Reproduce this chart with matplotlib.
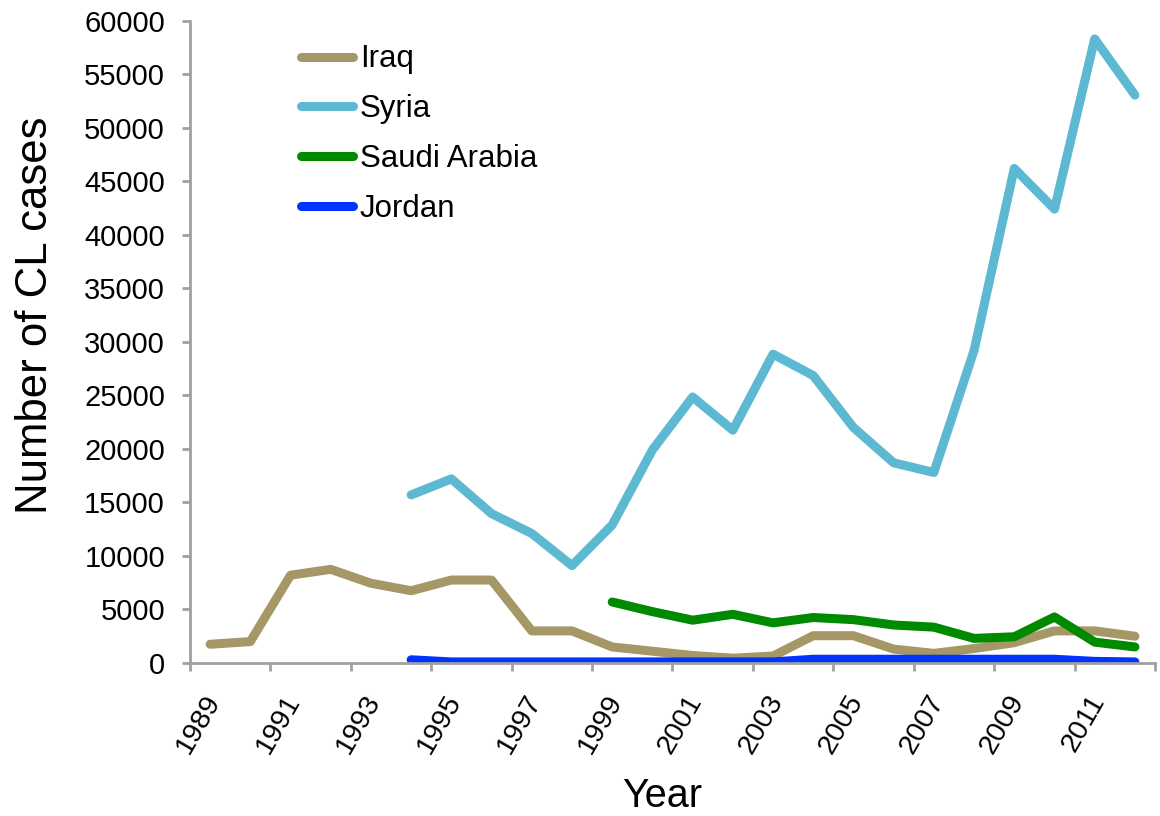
import numpy as np
import matplotlib
matplotlib.use("Agg")
import matplotlib.pyplot as plt
from matplotlib.transforms import ScaledTranslation

plt.rcParams['font.family'] = ['Liberation Sans', 'DejaVu Sans']

years = list(range(1989, 2013))
nan = np.nan

iraq = [1750, 2000, 8200, 8750, 7450, 6750, 7750, 7750, 3000, 3000,
        1500, 1100, 700, 450, 650, 2550, 2550, 1300, 900, 1350,
        1900, 3000, 3000, 2500]
syria = [nan, nan, nan, nan, nan, 15700, 17200, 13950, 12100, 9100,
         12900, 19900, 24850, 21750, 28850, 26850, 22000, 18700, 17800, 29200,
         46200, 42400, 58300, 53050]
saudi = [nan, nan, nan, nan, nan, nan, nan, nan, nan, nan,
         5700, 4800, 4000, 4550, 3750, 4250, 4050, 3550, 3350, 2300,
         2450, 4300, 1950, 1500]
jordan = [nan, nan, nan, nan, nan, 300, 100, 100, 100, 100,
          100, 100, 100, 100, 100, 350, 350, 350, 350, 350,
          350, 350, 150, 100]

series = [("Iraq", iraq, "#A69866"),
          ("Syria", syria, "#5DB9D2"),
          ("Saudi Arabia", saudi, "#008A00"),
          ("Jordan", jordan, "#0033FF")]

W, H = 1160, 816
fig = plt.figure(figsize=(W / 100, H / 100), dpi=100)
ax = fig.add_axes([190 / W, (816 - 663) / H, 965 / W, (663 - 20.7) / H])

x = np.arange(len(years))
for name, vals, col in series:
    ax.plot(x, np.array(vals, dtype=float), color=col, lw=6.5,
            solid_capstyle='round', solid_joinstyle='round', label=name)

ax.set_xlim(-0.5, len(years) - 0.5)
ax.set_ylim(0, 60000)
ax.set_yticks(np.arange(0, 60001, 5000))

# tick marks at category boundaries every 2 years, labels at category centers
ax.set_xticks(np.arange(-0.5, len(years), 2))
ax.set_xticklabels([])
ax.set_xticks(np.arange(0, len(years), 2), minor=True)
ax.set_xticklabels([str(y) for y in years[::2]], minor=True)

grey = "#A0A0A0"
for s in ['top', 'right']:
    ax.spines[s].set_visible(False)
for s in ['left', 'bottom']:
    ax.spines[s].set_color(grey)
    ax.spines[s].set_linewidth(2)

ax.tick_params(axis='both', which='major', direction='out', length=6, width=2,
               color=grey, labelsize=21)
ax.tick_params(axis='y', pad=12)
ax.tick_params(axis='x', which='minor', length=0, pad=24, labelsize=20.5)

offset = ScaledTranslation(4 / 100, 0, fig.dpi_scale_trans)
for lab in ax.get_xticklabels(minor=True):
    lab.set_rotation(60)
    lab.set_rotation_mode('anchor')
    lab.set_ha('right')
    lab.set_va('center')
    lab.set_transform(lab.get_transform() + offset)

fig.text(36 / W, 1 - 315 / H, "Number of CL cases", rotation=90,
         ha='center', va='center', fontsize=31.5)
fig.text(662 / W, 1 - 807 / H, "Year", ha='center', va='baseline', fontsize=28.5)

leg = ax.legend(loc='upper left', bbox_to_anchor=(301 / W, 1 - 44.5 / H),
                bbox_transform=fig.transFigure, frameon=False, fontsize=22.5,
                handlelength=1.66, handletextpad=0.22, labelspacing=0.63,
                borderpad=0, borderaxespad=0)

fig.savefig("out.png", dpi=100)
